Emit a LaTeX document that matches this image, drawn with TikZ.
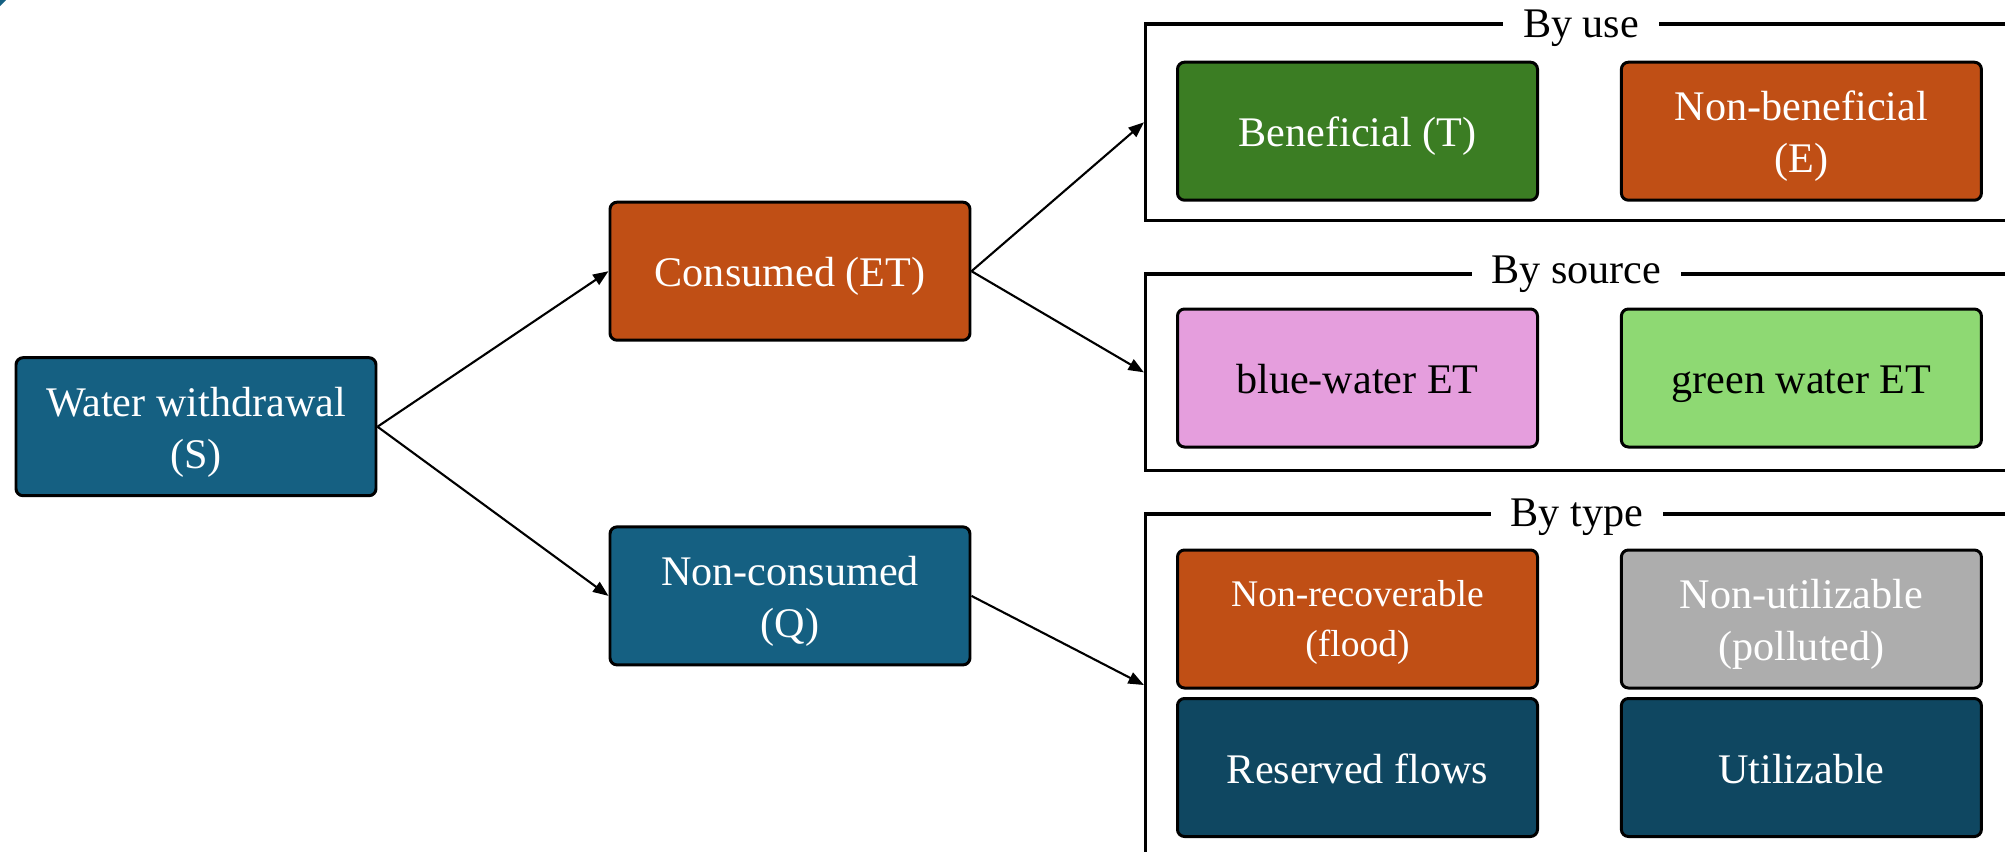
\documentclass[tikz,border=0pt]{standalone}
\usepackage{fontspec}
\setmainfont{Liberation Serif}[Ligatures=NoCommon]
\usetikzlibrary{arrows.meta}

\definecolor{tealblue}{HTML}{156082}
\definecolor{darkteal}{HTML}{0F4761}
\definecolor{burnt}{HTML}{C04F15}
\definecolor{leafgreen}{HTML}{3B7D23}
\definecolor{orchid}{HTML}{E59EDD}
\definecolor{lightgreen}{HTML}{8ED973}
\definecolor{midgray}{HTML}{ADADAD}

% fixed struts so every box centres its lines the same way
\newcommand{\topstrut}{\rule{0pt}{11.5pt}}
\newcommand{\botstrut}{\rule[-2.6pt]{0pt}{2.6pt}}
\newcommand{\smtopstrut}{\rule{0pt}{9.6pt}}
\newcommand{\smbotstrut}{\rule[-2.4pt]{0pt}{2.4pt}}
\newcommand{\oneline}[1]{\topstrut#1\botstrut}
\newcommand{\twolines}[2]{\topstrut#1\\#2\botstrut}
\newcommand{\smtwolines}[2]{\smtopstrut#1\\#2\smbotstrut}

\tikzset{
  box/.style={draw=black, line width=0.85pt, rounded corners=2pt,
    minimum width=3.6cm, minimum height=1.38cm, inner sep=0pt,
    align=center, text=white, font=\fontsize{12}{14.8}\selectfont},
  smalltext/.style={font=\fontsize{10.7}{14.2}\selectfont},
  darktext/.style={text=black},
  group/.style={draw=black, line width=0.9pt, inner sep=0pt},
  grouptitle/.style={fill=white, inner xsep=0.2cm, inner ysep=1pt,
    anchor=base, font=\fontsize{12}{14.8}\selectfont},
  arr/.style={line width=0.6pt, -{Triangle[length=4.4pt,width=3.4pt]}}
}

\begin{document}
\begin{tikzpicture}
\useasboundingbox (0,0) rectangle (20.05,-8.51);
\clip (0,0) rectangle (20.05,-8.51);

% corner fragment
\fill[tealblue] (0,0) -- (0.06,0) -- (0,-0.06) -- cycle;

% main flow
\node[box, fill=tealblue] (S) at (1.96,-4.267) {\twolines{Water withdrawal}{(S)}};
\node[box, fill=burnt] (ET) at (7.90,-2.712) {\oneline{Consumed (ET)}};
\node[box, fill=tealblue] (Q) at (7.90,-5.959) {\twolines{Non-consumed}{(Q)}};

% grouping frames (open to the right)
\node[group, minimum width=8.945cm, minimum height=1.967cm] (use) at (15.9275,-1.2235) {};
\node[group, minimum width=8.945cm, minimum height=1.967cm] (src) at (15.9275,-3.7235) {};
\node[group, minimum width=8.945cm, minimum height=3.42cm] (typ) at (15.9275,-6.85) {};

\node[grouptitle] (tuse) at (15.81,-0.37) {By use};
\node[grouptitle] (tsrc) at (15.765,-2.83) {By source};
\node[grouptitle] (ttyp) at (15.767,-5.26) {By type};

% by use
\node[box, fill=leafgreen] (T) at (13.575,-1.312) {\oneline{Beneficial (T)}};
\node[box, fill=burnt] (E) at (18.014,-1.312) {\twolines{Non-beneficial}{(E)}};

% by source
\node[box, fill=orchid, darktext] (blue) at (13.575,-3.78) {\oneline{blue-water ET}};
\node[box, fill=lightgreen, darktext] (green) at (18.014,-3.78) {\oneline{green water ET}};

% by type
\node[box, fill=burnt, smalltext] (flood) at (13.575,-6.19) {\smtwolines{Non-recoverable}{(flood)}};
\node[box, fill=midgray] (poll) at (18.014,-6.19) {\twolines{Non-utilizable}{(polluted)}};
\node[box, fill=darkteal] (res) at (13.575,-7.675) {\oneline{Reserved flows}};
\node[box, fill=darkteal] (util) at (18.014,-7.675) {\oneline{Utilizable}};

% connectors
\draw[arr] (S.east) -- (ET.west);
\draw[arr] (S.east) -- (Q.west);
\draw[arr] (ET.east) -- (use.west);
\draw[arr] (ET.east) -- (src.west);
\draw[arr] (Q.east) -- (typ.west);
\end{tikzpicture}
\end{document}
